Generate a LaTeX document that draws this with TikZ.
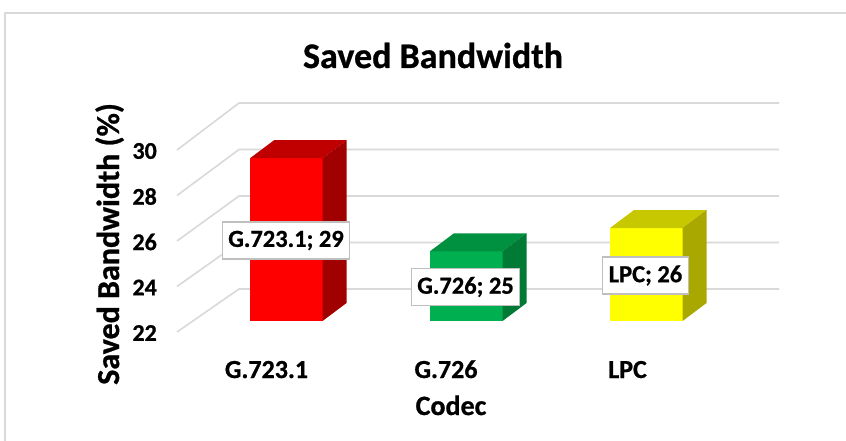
\documentclass[tikz,border=0pt]{standalone}
\usepackage{fontspec}
\setmainfont[BoldFeatures={FakeBold=0.8}]{Carlito}
\definecolor{gridgray}{HTML}{D9D9D9}
\definecolor{boxgray}{HTML}{BFBFBF}
\definecolor{redF}{HTML}{FF0000}
\definecolor{redT}{HTML}{C00000}
\definecolor{redS}{HTML}{A00000}
\definecolor{grnF}{HTML}{00B050}
\definecolor{grnT}{HTML}{009140}
\definecolor{grnS}{HTML}{007A35}
\definecolor{ylwF}{HTML}{FFFF00}
\definecolor{ylwT}{HTML}{C8C800}
\definecolor{ylwS}{HTML}{A8A800}
\begin{document}
\begin{tikzpicture}[x=1pt,y=-1pt,
  gridline/.style={draw=gridgray,line width=1.6pt},
  tick/.style={font=\fontsize{24}{24}\selectfont\bfseries,inner sep=0pt,anchor=east},
  catlabel/.style={font=\fontsize{26}{26}\selectfont\bfseries,inner sep=0pt,anchor=base},
  dlabel/.style={draw=boxgray,fill=white,line width=1.3pt,inner xsep=6pt,
    minimum height=37pt,font=\fontsize{24.5}{24.5}\selectfont\bfseries},
]
\useasboundingbox (0,0) rectangle (846,441);
\clip (0,0) rectangle (846,441);
\fill[white] (0,0) rectangle (846,441);
% chart area frame
\draw[gridgray,line width=1.3pt] (5,13) rectangle (900,500);

% gridlines: floor-to-wall diagonals and back-wall horizontals
\foreach \v in {22,24,...,30}{
  \pgfmathsetmacro\yf{150+(30-\v)*22.75}
  \pgfmathsetmacro\yb{103+(30-\v)*23.25}
  \draw[gridline] (177,\yf) -- (239,\yb) -- (779,\yb);
  \node[tick] (tick\v) at (157,\yf+1) {\v};
}

% 3D bars: front face, top face, side face
\foreach \x/\v/\fc/\tc/\sc in {250/29/redF/redT/redS,430/25/grnF/grnT/grnS,610/26/ylwF/ylwT/ylwS}{
  \pgfmathsetmacro\yt{321-(\v-22)*23.25}
  \fill[\fc] (\x,321) rectangle (\x+72.5,\yt);
  \fill[\tc] (\x,\yt) -- (\x+24,\yt-18) -- (\x+96.5,\yt-18) -- (\x+72.5,\yt) -- cycle;
  \fill[\sc] (\x+72.5,321) -- (\x+96.5,303) -- (\x+96.5,\yt-18) -- (\x+72.5,\yt) -- cycle;
}

% data labels
\node[dlabel] (lblA) at (286,240.5) {G.723.1; 29};
\node[dlabel] (lblB) at (465.5,287) {G.726; 25};
\node[dlabel] (lblC) at (645.5,275.5) {LPC; 26};

% category labels
\node[catlabel] (catA) at (266.5,378) {G.723.1};
\node[catlabel] (catB) at (446,378) {G.726};
\node[catlabel] (catC) at (627.5,378) {LPC};

% titles
\node[font=\fontsize{36}{36}\selectfont\bfseries,inner sep=0pt,anchor=base] (title) at (433,68) {Saved Bandwidth};
\node[font=\fontsize{28}{28}\selectfont\bfseries,inner sep=0pt,anchor=base] (xtitle) at (451,415) {Codec};
\node[font=\fontsize{32}{32}\selectfont\bfseries,inner sep=0pt,anchor=base,rotate=90] (ytitle) at (119,244) {Saved Bandwidth (\%)};
\end{tikzpicture}
\end{document}
